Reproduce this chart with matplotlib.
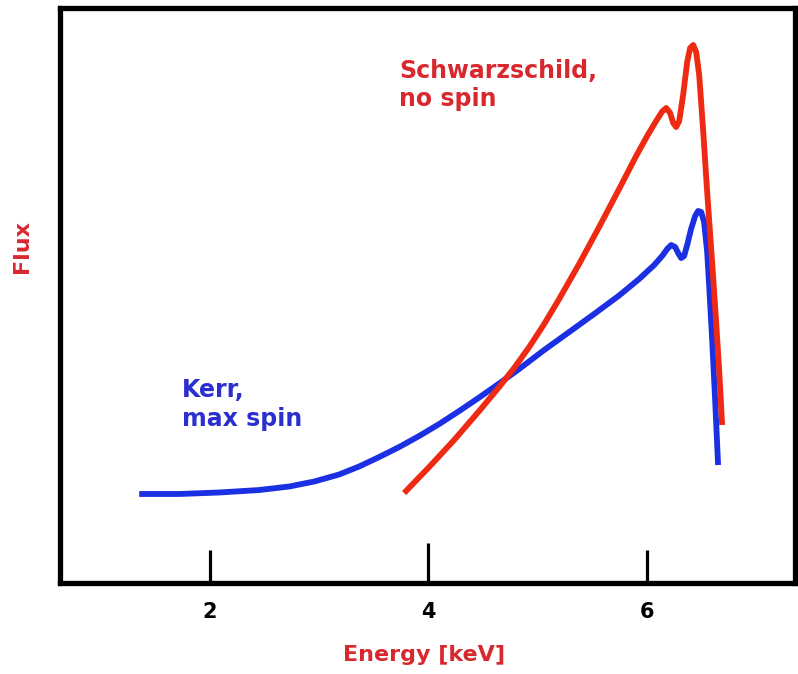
import numpy as np
import matplotlib
matplotlib.use('Agg')
import matplotlib.pyplot as plt

# energy grid [keV] and flux (arbitrary units) for the two line profiles
kerr_energy = [1.352, 1.718, 2.084, 2.450, 2.725, 2.954, 3.182, 3.365, 3.549, 3.732,
               3.915, 4.098, 4.281, 4.464, 4.647, 4.830, 5.059, 5.288, 5.516, 5.745,
               5.928, 6.066, 6.139, 6.185, 6.221, 6.258, 6.285, 6.313, 6.340, 6.368,
               6.404, 6.441, 6.468, 6.496, 6.523, 6.551, 6.569, 6.597, 6.624, 6.651]
kerr_flux = [1.548, 1.548, 1.574, 1.617, 1.678, 1.765, 1.887, 2.026, 2.191, 2.365,
             2.557, 2.765, 2.991, 3.226, 3.470, 3.722, 4.052, 4.365, 4.678, 5.000,
             5.287, 5.530, 5.687, 5.809, 5.878, 5.843, 5.739, 5.652, 5.687, 5.878,
             6.157, 6.383, 6.470, 6.452, 6.278, 5.757, 5.183, 4.226, 3.183, 2.052]

schw_energy = [3.777, 4.006, 4.235, 4.464, 4.647, 4.784, 4.922, 5.059, 5.196, 5.379,
               5.562, 5.745, 5.901, 6.002, 6.084, 6.139, 6.176, 6.212, 6.240, 6.267,
               6.295, 6.331, 6.368, 6.395, 6.423, 6.450, 6.478, 6.514, 6.551, 6.597,
               6.633, 6.661, 6.688]
schw_flux = [1.565, 2.017, 2.487, 2.991, 3.409, 3.739, 4.104, 4.504, 4.939, 5.548,
             6.191, 6.852, 7.426, 7.774, 8.035, 8.200, 8.261, 8.174, 8.000, 7.930,
             8.035, 8.487, 9.061, 9.304, 9.357, 9.235, 8.835, 7.878, 6.800, 5.565,
             4.539, 3.704, 2.748]

tick_pos = [2, 4, 6]
tick_labels = ['2', '4', '6']

red_line = '#ee2a12'
blue_line = '#1b2fe3'
red_text = '#d8282e'
blue_text = '#2c2fd0'

W, H = 798, 674
fig = plt.figure(figsize=(W / 100, H / 100), dpi=100)
ax = fig.add_axes([60 / W, 1 - 583 / H, 735 / W, 575 / H])

ax.plot(kerr_energy, kerr_flux, color=blue_line, lw=4.2,
        solid_capstyle='butt', solid_joinstyle='round')
ax.plot(schw_energy, schw_flux, color=red_line, lw=4.2,
        solid_capstyle='butt', solid_joinstyle='round')

ax.set_xlim(0.627, 7.355)
ax.set_ylim(0, 10)

for s in ax.spines.values():
    s.set_linewidth(3.8)
    s.set_color('black')

ax.set_yticks([])
ax.set_xticks(tick_pos)
ax.set_xticklabels(tick_labels, fontsize=15, fontweight='bold')
ax.tick_params(axis='x', direction='in', length=24, width=2.3, pad=13.5)
# middle tick is drawn a bit longer
ax.xaxis.get_major_ticks()[1].tick1line.set_markersize(29)

ax.text(3.73, 8.66, 'Schwarzschild,\nno spin', color=red_text, fontsize=17,
        fontweight='bold', va='center', ha='left', linespacing=1.25)
ax.text(1.745, 3.1, 'Kerr,\nmax spin', color=blue_text, fontsize=17,
        fontweight='bold', va='center', ha='left', linespacing=1.25)

fig.text(424 / W, 1 - 655 / H, 'Energy [keV]', color=red_text, fontsize=16,
         fontweight='bold', ha='center', va='center')
fig.text(22 / W, 1 - 246 / H, 'Flux', color=red_text, fontsize=16,
         fontweight='bold', ha='center', va='center', rotation=90)

fig.savefig('out.png', dpi=100)
